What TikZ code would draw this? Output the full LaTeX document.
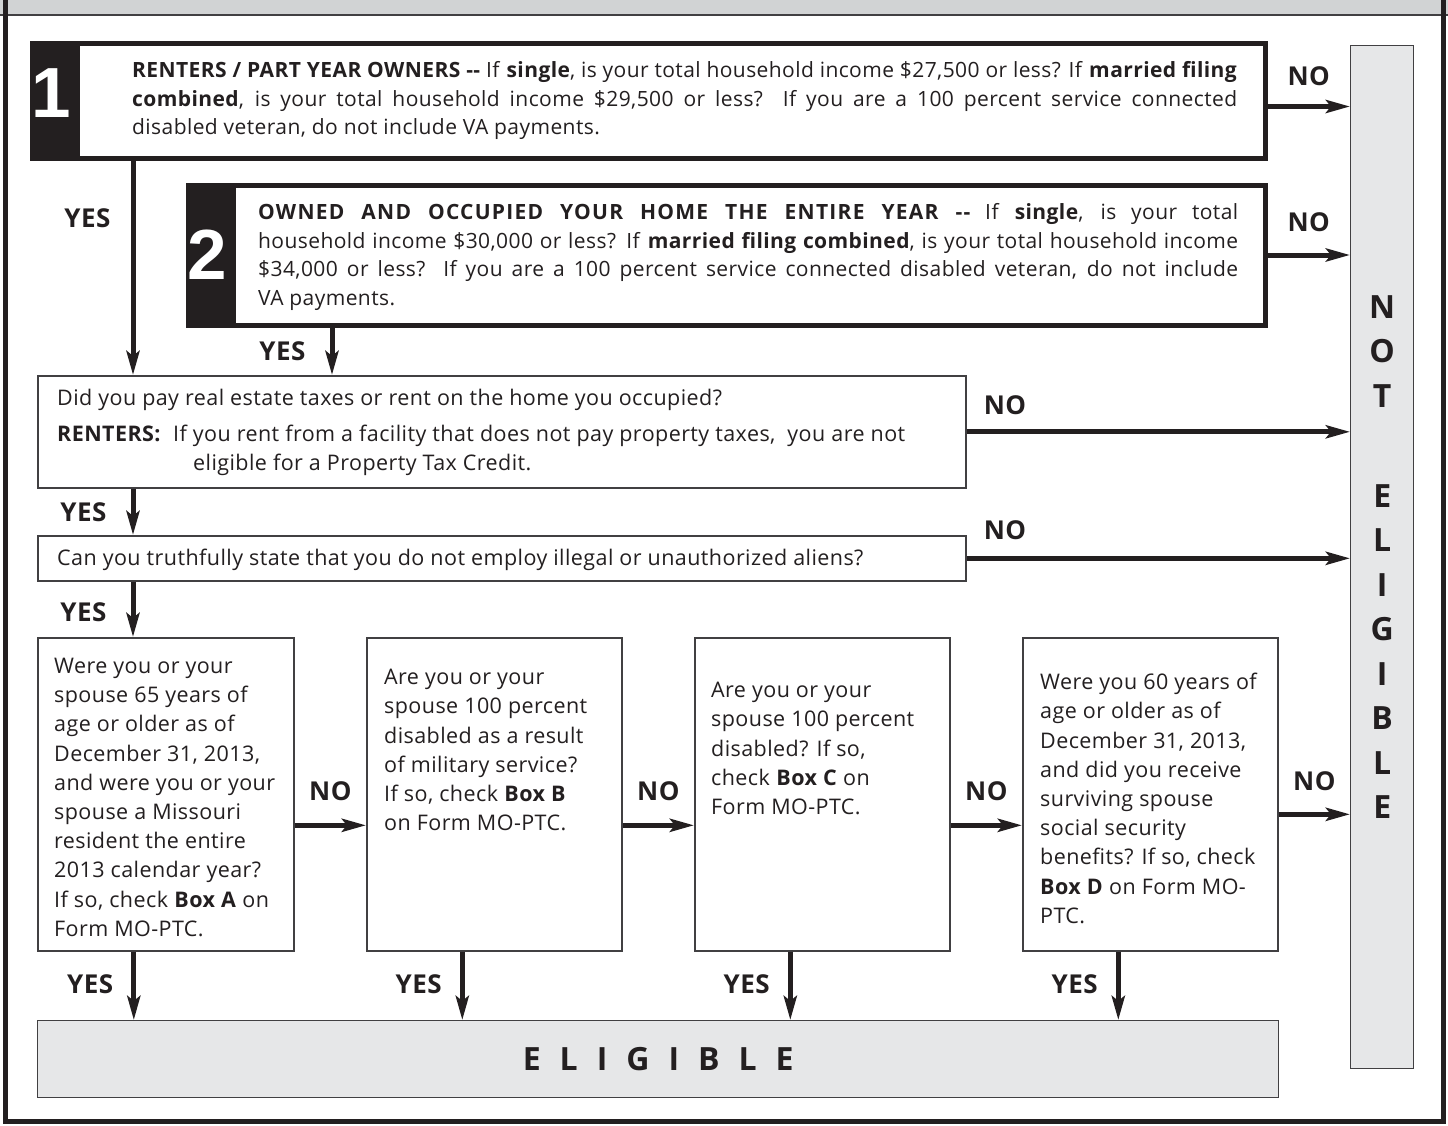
\documentclass[tikz,border=0pt]{standalone}
\usepackage{fontspec}
\setmainfont{Open Sans}[Ligatures=TeXOff, LetterSpace=2]
\newfontfamily\numfont{Liberation Sans}
\usetikzlibrary{arrows.meta, positioning}

\definecolor{ink}{HTML}{231F20}
\definecolor{edge}{HTML}{414042}
\definecolor{bandgray}{HTML}{D1D3D4}
\definecolor{boxgray}{HTML}{E6E7E8}

\newcommand{\bodyfont}{\fontsize{21.5}{29.2}\selectfont}
\newcommand{\introfont}{\fontsize{21}{28.5}\selectfont}
\newcommand{\tagfont}{\fontsize{26}{26}\selectfont\bfseries}
\newcommand{\bigfont}{\fontsize{32}{44.5}\selectfont\bfseries}

\begin{document}
\begin{tikzpicture}[
    x=1pt, y=-1pt,
    arr/.style={draw=ink, line width=5pt, -{Stealth[length=24pt, width=13pt, inset=5pt]}},
    leadbox/.style={draw=ink, line width=5pt, fill=white, rectangle, inner sep=0pt, anchor=north west},
    qbox/.style={draw=edge, line width=1.6pt, fill=white, rectangle, inner sep=0pt, anchor=north west},
    result/.style={draw=edge, line width=1.4pt, fill=boxgray, rectangle, inner sep=0pt,
        anchor=north west, text=ink, font=\bigfont},
    qtext/.style={inner sep=0pt, anchor=north west, align=left, text=ink, font=\bodyfont},
    num/.style={text=white, inner sep=0pt, font={\numfont\bfseries\fontsize{71}{71}\selectfont}},
    yeslbl/.style={font=\tagfont, text=ink, inner sep=0pt, left=20pt},
    nolbl/.style={font=\tagfont, text=ink, inner sep=0pt, above=18pt}
]

\useasboundingbox (0,0) rectangle (1448,1125);
\clip (0,0) rectangle (1448,1125);

% Frame
\fill[bandgray] (0,0) rectangle (1448,15);
\draw[edge, line width=2pt] (0,15) -- (1448,15);
\draw[ink, line width=5pt] (5,-20) rectangle (1443,1121.5);

% -------------------------
% Income questions
% -------------------------

% 1. Renters / part year owners
\node[leadbox, minimum width=1233pt, minimum height=115pt] (box1) at (29.5,40.5) {};
\fill[ink] (box1.north west) rectangle ([xshift=50.5pt]box1.south west);
\node[num] (n1) at ([xshift=22pt, yshift=7pt]box1.west) {1};
\node[qtext, anchor=west, text width=1105pt, align=justify, font=\introfont] (t1)
    at ([xshift=102.5pt]box1.west) {%
    \textbf{RENTERS / PART YEAR OWNERS --} If \textbf{single}, is your total household income \$27,500 or less? If \textbf{married filing}\linebreak
    \textbf{combined}, is your total household income \$29,500 or less? If you are a 100 percent service connected\linebreak
    disabled veteran, do not include VA payments.};

% 2. Owners the entire year
\node[leadbox, minimum width=1077pt, minimum height=140pt] (box2) at (185.5,182.5) {};
\fill[ink] (box2.north west) rectangle ([xshift=50.5pt]box2.south west);
\node[num] (n2) at ([xshift=22pt]box2.west) {2};
\node[qtext, anchor=west, text width=980pt, align=justify, font=\introfont] (t2)
    at ([xshift=72.5pt, yshift=-2pt]box2.west) {%
    {\addfontfeature{LetterSpace=6}\textbf{OWNED AND OCCUPIED YOUR HOME THE ENTIRE YEAR --}} If \textbf{single}, is your total\linebreak
    household income \$30,000 or less? If \textbf{married filing combined}, is your total household income\linebreak
    \$34,000 or less?\ \ If you are a 100 percent service connected disabled veteran, do not include\linebreak
    VA payments.};

% -------------------------
% Taxes and aliens
% -------------------------

\node[qbox, minimum width=928pt, minimum height=112pt] (box3) at (37,375) {};
\node[qtext] (t3) at ([xshift=20pt, yshift=-14pt]box3.north west) {%
    Did you pay real estate taxes or rent on the home you occupied?\\[7pt]
    \makebox[116pt][l]{\textbf{RENTERS:}}If you rent from a facility that does not pay property taxes,\ \ you are not\\
    \hspace*{136pt}eligible for a Property Tax Credit.};

\node[qbox, minimum width=928pt, minimum height=45pt] (box4) at (37,535) {};
\node[qtext, anchor=west] (t4) at ([xshift=20pt, yshift=-2pt]box4.west)
    {Can you truthfully state that you do not employ illegal or unauthorized aliens?};

% -------------------------
% Boxes A to D
% -------------------------

\node[qbox, minimum width=256pt, minimum height=313pt] (boxA) at (37,637) {};
\node[qbox, minimum width=255pt, minimum height=313pt] (boxB) at (366,637) {};
\node[qbox, minimum width=255pt, minimum height=313pt] (boxC) at (694,637) {};
\node[qbox, minimum width=255pt, minimum height=313pt] (boxD) at (1022,637) {};

\node[qtext] (tA) at ([xshift=17pt, yshift=-21pt]boxA.north west) {%
    Were you or your\\spouse 65 years of\\age or older as of\\December 31, 2013,\\
    and were you or your\\spouse a Missouri\\resident the entire\\2013 calendar year?\\
    If so, check \textbf{Box A} on\\Form MO-PTC.};
\node[qtext] (tB) at ([xshift=18pt, yshift=-32pt]boxB.north west) {%
    Are you or your\\spouse 100 percent\\disabled as a result\\of military service?\\
    If so, check \textbf{Box B}\\on Form MO-PTC.};
\node[qtext] (tC) at ([xshift=17pt, yshift=-45pt]boxC.north west) {%
    Are you or your\\spouse 100 percent\\disabled? If so,\\check \textbf{Box C} on\\Form MO-PTC.};
\node[qtext] (tD) at ([xshift=18pt, yshift=-36pt]boxD.north west) {%
    Were you 60 years of\\age or older as of\\December 31, 2013,\\and did you receive\\
    surviving spouse\\social security\\benefits? If so, check\\\textbf{Box D} on Form MO-\\PTC.};

% -------------------------
% Results
% -------------------------

\node[result, minimum width=1241pt, minimum height=77pt] (elig) at (37,1020)
    {{\spaceskip=19pt E L I G I B L E}};
\node[result, minimum width=63pt, minimum height=1023pt, align=center] (ne) at (1350,45)
    {N\\O\\T\\[55.5pt]E\\L\\I\\G\\I\\B\\L\\E};

% -------------------------
% YES paths
% -------------------------

\coordinate (spine) at ([xshift=96pt]box3.north west);
\coordinate (yes2) at ([xshift=146.5pt]box2.south west);

\draw[arr] (box1.south -| spine) -- (box3.north -| spine) node[yeslbl, pos=0.27] {YES};
\draw[arr] (yes2) -- (yes2 |- box3.north) node[yeslbl, pos=0.5, left=24pt] {YES};
\draw[arr] (box3.south -| spine) -- (box4.north -| spine) node[yeslbl, pos=0.5, left=24pt] {YES};
\draw[arr] (box4.south -| spine) -- (boxA.north -| spine) node[yeslbl, pos=0.55, left=24pt] {YES};

\foreach \b in {A,B,C,D} {
    \coordinate (yes\b) at ([xshift=-32pt]box\b.south);
    \draw[arr] (yes\b) -- (yes\b |- elig.north) node[yeslbl, pos=0.48, left=18pt] {YES};
}

% -------------------------
% NO paths
% -------------------------

\coordinate (no1) at ([yshift=-6pt]box1.east);
\draw[arr] (no1) -- (no1 -| ne.west) node[nolbl, pos=0.5] {NO};
\draw[arr] (box2.east) -- (box2.east -| ne.west) node[nolbl, pos=0.5, above=21pt] {NO};
\draw[arr] (box3.east) -- (box3.east -| ne.west) node[nolbl, pos=0.1, above=15pt] {NO};
\draw[arr] (box4.east) -- (box4.east -| ne.west) node[nolbl, pos=0.1, above=16pt] {NO};

\coordinate (noA) at ([yshift=-31pt]boxA.east);
\coordinate (noB) at ([yshift=-31pt]boxB.east);
\coordinate (noC) at ([yshift=-31pt]boxC.east);
\coordinate (noD) at ([yshift=-20pt]boxD.east);
\draw[arr] (noA) -- (noA -| boxB.west) node[nolbl, pos=0.5, above=22pt] {NO};
\draw[arr] (noB) -- (noB -| boxC.west) node[nolbl, pos=0.5, above=22pt] {NO};
\draw[arr] (noC) -- (noC -| boxD.west) node[nolbl, pos=0.5, above=22pt] {NO};
\draw[arr] (noD) -- (noD -| ne.west) node[nolbl, pos=0.5, above=21pt] {NO};

\end{tikzpicture}
\end{document}
